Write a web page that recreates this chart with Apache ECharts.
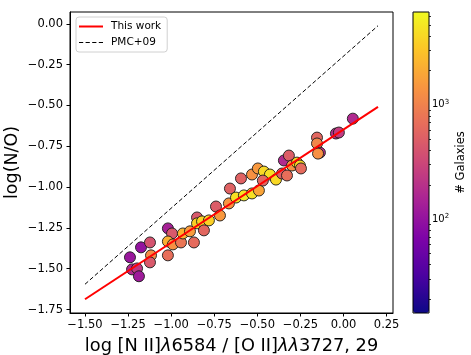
<!DOCTYPE html>
<html><head><meta charset="utf-8">
<script src="https://cdn.jsdelivr.net/npm/echarts@6/dist/echarts.min.js"></script>
<style>html,body{margin:0;padding:0;background:#fff}#c{width:471px;height:355px}</style>
</head><body><div id="c"></div>
<script>
// --- data ---
const n2o2 = [-1.239,-1.175,-1.123,-1.227,-1.198,-1.187,-1.117,-1.123,-1.019,-0.995,-1.019,-0.990,-1.019,-0.943,-0.932,-0.891,-0.868,-0.850,-0.850,-0.821,-0.810,-0.781,-0.740,-0.717,-0.665,-0.659,-0.624,-0.595,-0.578,-0.531,-0.491,-0.531,-0.497,-0.462,-0.427,-0.468,-0.392,-0.357,-0.328,-0.346,-0.317,-0.299,-0.270,-0.253,-0.247,-0.154,-0.154,-0.137,-0.148,-0.044,-0.027,0.054];
const logNO = [-1.430,-1.369,-1.339,-1.504,-1.498,-1.546,-1.418,-1.461,-1.253,-1.284,-1.333,-1.351,-1.418,-1.339,-1.284,-1.271,-1.339,-1.186,-1.222,-1.210,-1.265,-1.204,-1.119,-1.174,-1.100,-1.009,-1.064,-0.947,-1.051,-1.039,-1.021,-0.923,-0.886,-0.905,-0.923,-0.960,-0.954,-0.917,-0.929,-0.837,-0.807,-0.868,-0.850,-0.868,-0.886,-0.697,-0.733,-0.789,-0.795,-0.672,-0.666,-0.581];
const nGalaxies = [110,100,400,170,230,120,1200,450,140,450,2200,1300,700,800,2300,1600,650,450,3500,3800,600,3500,480,1500,1400,550,4500,550,5000,4500,1800,1300,1500,4000,4500,600,4000,500,700,170,500,1300,3800,4000,650,600,1100,200,1300,190,250,170];
const lineX = [-1.5, 0.2];
const thisWorkY = [-1.687, -0.509];
const pmcY = [-1.595, -0.012];
const xTicks = [-1.5,-1.25,-1.0,-0.75,-0.5,-0.25,0.0,0.25];
const yTicks = [-1.75,-1.5,-1.25,-1.0,-0.75,-0.5,-0.25,0.0];
const cbMajor = [100, 1000];
const cbMinor = [20,30,40,50,60,70,80,90,200,300,400,500,600,700,800,900,2000,3000,4000,5000,6000];
const cbMin = 15.1, cbMax = 6500;

const plasma = ['#0d0887','#4c02a1','#7e03a8','#a92395','#cc4778','#e66c5c','#f89540','#fdc527','#f0f921'];
const F = 'DejaVu Sans';
const minus = s => s.replace(/-/g,'\u2212');
const L = Math.log10;

const scatterData = n2o2.map((x,i)=>[x, logNO[i], L(nGalaxies[i])]);

const solidIcon = 'path://M0,0h0.01v0.01h-0.01zM0,4h24v2h-24zM23.99,9.99h0.01v0.01h-0.01z';
const dashIcon = 'path://M0,0h0.01v0.01h-0.01zM0,4.5h4.2v1.1h-4.2zM6.6,4.5h4.2v1.1h-4.2zM13.2,4.5h4.2v1.1h-4.2zM19.8,4.5h4.2v1.1h-4.2zM23.99,9.99h0.01v0.01h-0.01z';

const chart = echarts.init(document.getElementById('c'), null, {renderer:'canvas'});
chart.setOption({
  backgroundColor:'#fff',
  animation:false,
  textStyle:{fontFamily:F},
  grid:[
    {left:70, top:12, width:323, height:301, outerBoundsMode:'none', containLabel:false, show:true, borderColor:'#000', borderWidth:1, backgroundColor:'transparent', z:5},
    {left:413, top:12, width:16, height:301, outerBoundsMode:'none', containLabel:false, show:true, borderColor:'#000', borderWidth:1, backgroundColor:'transparent', z:5}
  ],
  legend:{
    data:[{name:'This work', icon:solidIcon, itemStyle:{color:'#ff0000'}},{name:'PMC+09', icon:dashIcon, itemStyle:{color:'#000'}}],
    orient:'vertical', left:76, top:17,
    itemWidth:24, itemHeight:10, itemGap:5, padding:[4,6,4,3], symbolKeepAspect:false,
    borderColor:'#d0d0d0', borderWidth:1, borderRadius:3, backgroundColor:'rgba(255,255,255,0.8)',
    textStyle:{fontFamily:F, fontSize:10.5, color:'#000', padding:[0,0,0,3]}
  },
  xAxis:[
    {type:'value', gridIndex:0, min:-1.587, max:0.287,
     name:'log [N II]{i|λ}6584 / [O II]{i|λλ}3727, 29', nameLocation:'middle', nameGap:24,
     nameTextStyle:{fontFamily:F, fontSize:17.8, color:'#000', rich:{i:{fontFamily:F, fontSize:17.8, fontStyle:'italic', color:'#000'}}},
     axisLine:{onZero:false, lineStyle:{color:'#000', width:1}},
     axisTick:{show:true, customValues:xTicks, length:3.5, lineStyle:{color:'#000'}},
     axisLabel:{customValues:xTicks, margin:6, fontSize:11.5, color:'#000', fontFamily:F, formatter:v=>minus(v.toFixed(2))},
     splitLine:{show:false}},
    {type:'value', gridIndex:1, min:0, max:1, show:false}
  ],
  yAxis:[
    {type:'value', gridIndex:0, min:-1.771, max:0.072,
     name:'log(N/O)', nameLocation:'middle', nameGap:49, nameRotate:90, nameMoveOverlap:false,
     nameTextStyle:{fontFamily:F, fontSize:17.5, color:'#000'},
     axisLine:{onZero:false, lineStyle:{color:'#000', width:1}},
     axisTick:{show:true, customValues:yTicks, length:3.5, lineStyle:{color:'#000'}},
     axisLabel:{customValues:yTicks, margin:7, fontSize:11.5, color:'#000', fontFamily:F, formatter:v=>minus(v.toFixed(2))},
     splitLine:{show:false}},
    {type:'value', gridIndex:1, position:'right', min:L(cbMin), max:L(cbMax),
     name:'# Galaxies', nameLocation:'middle', nameGap:26, nameRotate:90,
     nameTextStyle:{fontFamily:F, fontSize:11.5, color:'#000'},
     axisLine:{show:false},
     axisTick:{show:true, customValues:cbMajor.map(L), length:3.5, lineStyle:{color:'#000'}},
     axisLabel:{customValues:cbMajor.map(L), margin:3, color:'#000', fontFamily:F, fontSize:10,
       formatter:v=>'10{s|'+Math.round(v)+'}', rich:{s:{fontSize:7, verticalAlign:'top', padding:[0,0,6,0], fontFamily:F, color:'#000'}}},
     splitLine:{show:false}},
    {type:'value', gridIndex:1, position:'right', min:L(cbMin), max:L(cbMax),
     axisLine:{show:false},
     axisTick:{show:true, customValues:cbMinor.map(L), length:2, lineStyle:{color:'#000', width:0.8}},
     axisLabel:{show:false}, splitLine:{show:false}}
  ],
  visualMap:{
    type:'continuous', seriesIndex:0, dimension:2, min:L(cbMin), max:L(cbMax),
    left:413, top:12, itemWidth:16, itemHeight:301, padding:0,
    calculable:false, text:null, showLabel:false, hoverLink:false,
    inRange:{color:plasma}, orient:'vertical'
  },
  series:[
    {name:'pts', type:'scatter', xAxisIndex:0, yAxisIndex:0, data:scatterData, symbolSize:11,
     itemStyle:{borderColor:'#1a1a1a', borderWidth:0.9, opacity:1}, z:2},
    {name:'This work', type:'line', xAxisIndex:0, yAxisIndex:0, data:lineX.map((x,i)=>[x,thisWorkY[i]]),
     symbol:'none', lineStyle:{color:'#ff0000', width:2}, itemStyle:{color:'#ff0000'}, z:4},
    {name:'PMC+09', type:'line', xAxisIndex:0, yAxisIndex:0, data:lineX.map((x,i)=>[x,pmcY[i]]),
     symbol:'none', lineStyle:{color:'#000', width:1, type:[4.2,2.4]}, itemStyle:{color:'#000'}, z:3}
  ]
});
</script></body></html>
